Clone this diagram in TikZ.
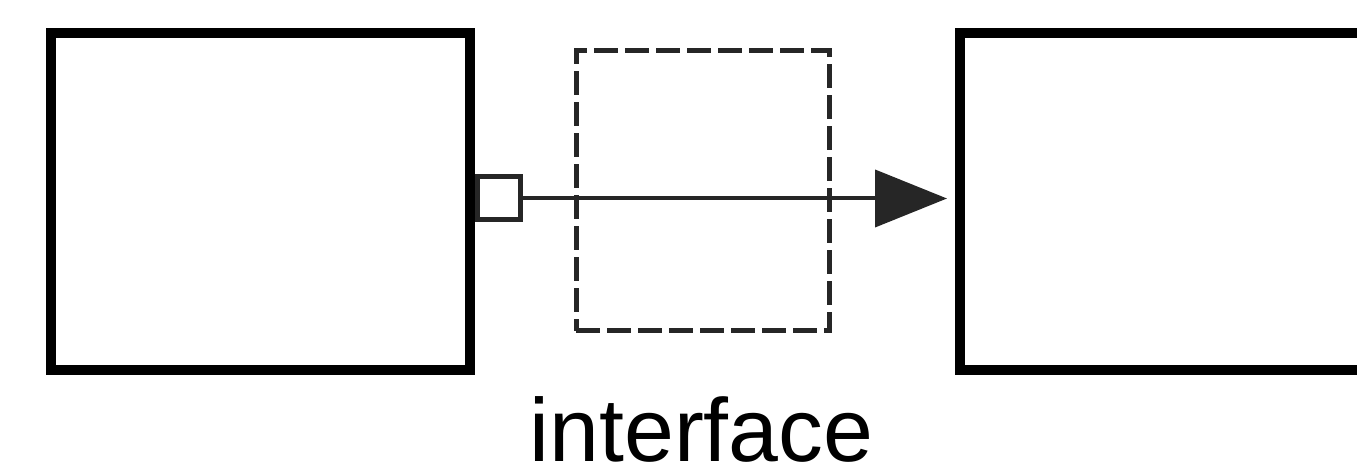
\documentclass[tikz,border=0pt]{standalone}
\usepackage{fontspec}
\setmainfont{Liberation Sans}
\usetikzlibrary{arrows.meta, positioning}

\begin{document}
\begin{tikzpicture}[
    block/.style={draw=black, line width=0.1cm, fill=white, inner sep=0pt,
                  minimum width=4.19cm, minimum height=3.37cm},
    portbox/.style={draw=black!85, line width=0.05cm, fill=white, inner sep=0pt,
                    minimum size=0.43cm},
    ifacebox/.style={draw=black!85, line width=0.05cm, inner sep=0pt,
                     dash pattern=on 0.24cm off 0.07cm,
                     minimum width=2.53cm, minimum height=2.80cm},
    flow/.style={draw=black!85, line width=0.04cm,
                 -{Triangle[length=0.72cm, width=0.57cm]}}
  ]
  % Frame
  \useasboundingbox (0,0) rectangle (13.57,4.71);
  \clip (0,0) rectangle (13.57,4.71);

  % Blocks
  \node[block] (source) at (2.605,2.695) {};
  \node[block] (target) at (11.695,2.695) {};

  % Interface region
  \node[ifacebox] (iface) at (7.025,2.80) {};
  \node[font=\fontsize{25.5}{30}\selectfont, anchor=base, inner sep=0pt,
        text depth=0pt] (ifacelabel) at (7.015,0.09) {interface};

  % Output port and connection
  \node[portbox] (port) at (4.99,2.725) {};
  \draw[flow, shorten >=0.08cm] (port.east) -- (port.east -| target.west);
\end{tikzpicture}
\end{document}
